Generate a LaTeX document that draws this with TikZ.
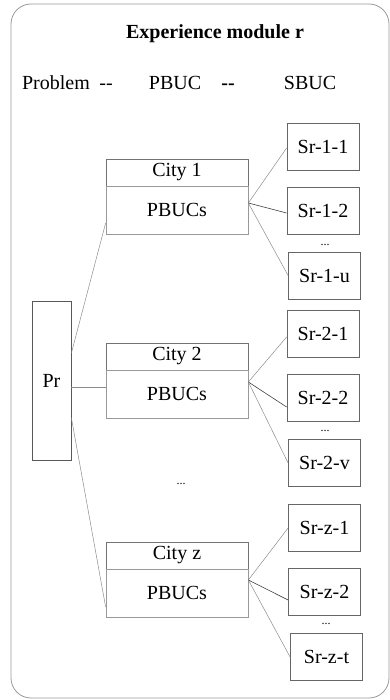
\documentclass[tikz,border=0pt]{standalone}
\usepackage{fontspec}
\setmainfont{Liberation Serif}
\begin{document}
\begin{tikzpicture}[x=1pt,y={(0,-1pt)},
  big/.style={font=\fontsize{20}{24}\selectfont},
  rowtxt/.style={big, anchor=base, inner sep=0pt},
  sbox/.style={draw=black!60, line width=0.8pt, minimum width=72pt, minimum height=47pt, inner sep=0pt, big},
  cityhead/.style={draw=black!55, line width=0.7pt, minimum width=142pt, minimum height=27pt, inner sep=0pt, big},
  pbox/.style={draw=black!40, line width=0.7pt, minimum width=142pt, minimum height=48pt, inner sep=0pt, big},
  dots/.style={font=\fontsize{12}{14}\selectfont, inner sep=0pt},
  conn/.style={draw=black!45, line width=0.5pt},
  connd/.style={draw=black!75, line width=0.6pt}]
\useasboundingbox (0,0) rectangle (390,700);
\draw[black!40, line width=0.8pt, rounded corners=20pt] (11,4) rectangle (389,698);
\node[rowtxt, font=\fontsize{20}{24}\selectfont\bfseries] (title) at (215,39) {Experience module r};
\node[rowtxt] (prob) at (56,90) {Problem};
\node[rowtxt] (d1) at (106,90) {-{}-};
\node[rowtxt] (pbuc) at (175,90) {PBUC};
\node[rowtxt, font=\fontsize{20}{24}\selectfont\bfseries] (d2) at (228,90) {-{}-};
\node[rowtxt] (sbuc) at (310,90) {SBUC};
% Pr
\node[draw=black!65, line width=0.8pt, minimum width=39pt, minimum height=159pt, inner sep=0pt, big] (pr) at (51.5,380.5) {Pr};
% cities
\node[cityhead] (c1) at (177,172.5) {City 1};
\node[pbox] (p1) at (177,210) {PBUCs};
\node[cityhead] (c2) at (177,356.5) {City 2};
\node[pbox] (p2) at (177,394) {PBUCs};
\node[cityhead] (cz) at (177,555.5) {City z};
\node[pbox] (pz) at (177,593) {PBUCs};
\node[dots] (mdots) at (181,484) {...};
% S boxes
\node[sbox] (s11) at (323,146.5) {Sr-1-1};
\node[sbox] (s12) at (323,210.5) {Sr-1-2};
\node[dots] (dt1) at (325,245) {...};
\node[sbox] (s1u) at (324.5,275.5) {Sr-1-u};
\node[sbox] (s21) at (323,333.5) {Sr-2-1};
\node[sbox] (s22) at (323,398) {Sr-2-2};
\node[dots] (dt2) at (325,431) {...};
\node[sbox] (s2v) at (324.5,463) {Sr-2-v};
\node[sbox] (sz1) at (324.5,528) {Sr-z-1};
\node[sbox] (sz2) at (324.5,592) {Sr-z-2};
\node[dots] (dtz) at (326,624) {...};
\node[sbox] (szt) at (326.5,657) {Sr-z-t};
% connectors Pr -> cities
\draw[conn] ([yshift=27.5pt]pr.east) -- ([yshift=-13pt]p1.west);
\draw[conn] ([yshift=-6.5pt]pr.east) -- ([yshift=7pt]p2.west);
\draw[conn] ([yshift=-37.5pt]pr.east) -- ([yshift=-14pt]pz.west);
% cities -> S
\draw[conn] ([yshift=7pt]p1.east) -- ([yshift=-1.5pt]s11.west);
\draw[connd] ([yshift=7pt]p1.east) -- ([yshift=-2.5pt]s12.west);
\draw[conn] ([yshift=7pt]p1.east) -- (s1u.west);
\draw[conn] ([yshift=12pt]p2.east) -- ([yshift=-3.5pt]s21.west);
\draw[connd] ([yshift=12pt]p2.east) -- ([yshift=-9pt]s22.west);
\draw[conn] ([yshift=12pt]p2.east) -- (s2v.west);
\draw[conn] ([yshift=13pt]pz.east) -- (sz1.west);
\draw[connd] ([yshift=13pt]pz.east) -- ([yshift=-8pt]sz2.west);
\draw[conn] ([yshift=13pt]pz.east) -- (szt.west);
\end{tikzpicture}
\end{document}
